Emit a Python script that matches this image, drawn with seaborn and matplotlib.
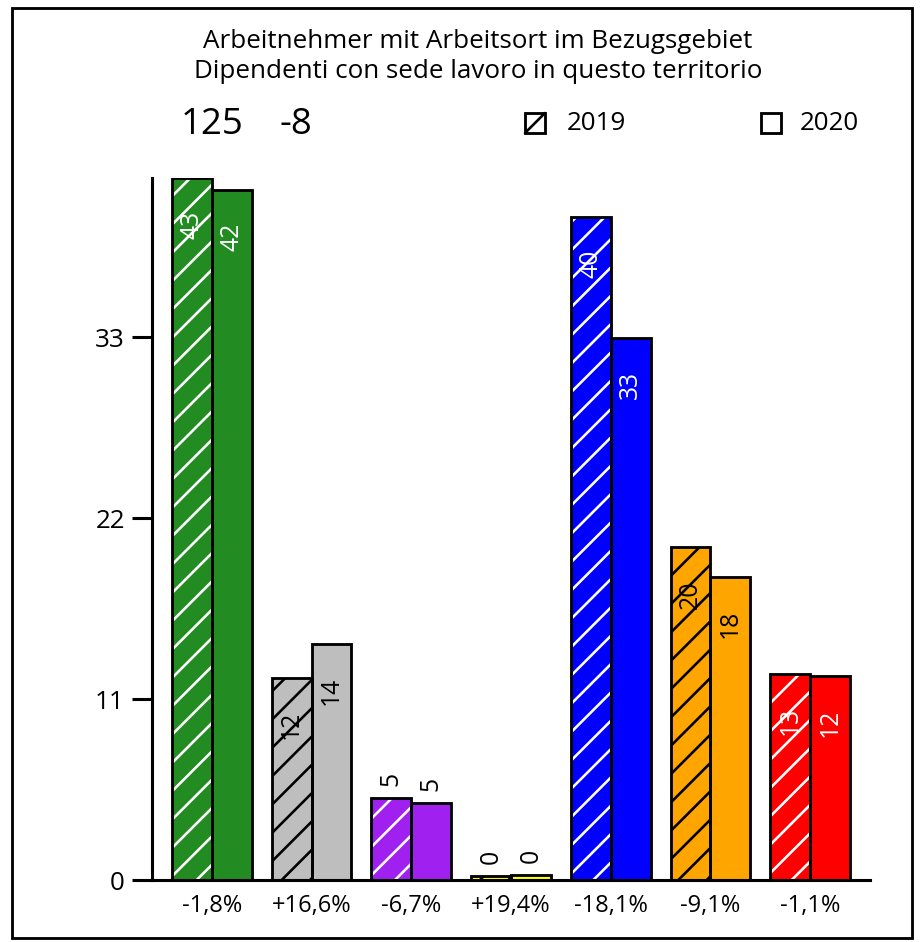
import matplotlib
matplotlib.use("Agg")
import matplotlib.pyplot as plt
import matplotlib.patches as mpatches
import matplotlib.lines as mlines
import seaborn as sns
import pandas as pd

# ---- data ----
categories = ["G1", "G2", "G3", "G4", "G5", "G6", "G7"]
values_2019 = [42.67, 12.28, 4.98, 0.24, 40.30, 20.24, 12.52]
values_2020 = [41.94, 14.35, 4.68, 0.30, 32.95, 18.42, 12.40]
labels_2019 = ["43", "12", "5", "0", "40", "20", "13"]
labels_2020 = ["42", "14", "5", "0", "33", "18", "12"]
pct_labels = ["-1,8%", "+16,6%", "-6,7%", "+19,4%", "-18,1%", "-9,1%", "-1,1%"]
bar_colors = ["#228B22", "#BEBEBE", "#A020F0", "#FFFF00", "#0000FF", "#FFA500", "#FF0000"]
ink_colors = ["white", "black", "white", "black", "white", "black", "white"]
years = ["2019", "2020"]
yticks = [0, 11, 22, 33]
title_lines = ["Arbeitnehmer mit Arbeitsort im Bezugsgebiet",
               "Dipendenti con sede lavoro in questo territorio"]
total_text = "125"
diff_text = "-8"

DPI = 170
W, H = 924, 942
sns.set_theme(style="white")
plt.rcParams["font.family"] = ["Open Sans", "DejaVu Sans"]
plt.rcParams["hatch.linewidth"] = 1.1
for k in ["text.color", "axes.labelcolor", "xtick.color", "ytick.color"]:
    plt.rcParams[k] = "black"

fig = plt.figure(figsize=(W / DPI, H / DPI), dpi=DPI)
ax = fig.add_axes([152 / W, 1 - 880 / H, (870 - 152) / W, (880 - 178) / H])

df = pd.DataFrame({
    "cat": categories * 2,
    "year": [years[0]] * len(categories) + [years[1]] * len(categories),
    "value": values_2019 + values_2020,
})
sns.barplot(data=df, x="cat", y="value", hue="year", order=categories,
            hue_order=years, width=0.8, gap=0, legend=False, ax=ax,
            errorbar=None, saturation=1)

edge_lw = 1.2
label_fs = 10.5
for yi, (cont, labs) in enumerate(zip(ax.containers, [labels_2019, labels_2020])):
    for i, patch in enumerate(cont.patches):
        col = bar_colors[i]
        patch.set_facecolor(col)
        if yi == 0:
            patch.set_hatch("//")
            patch.set_edgecolor(ink_colors[i])
            patch.set_linewidth(0)
            outline = mpatches.Rectangle(patch.get_xy(), patch.get_width(), patch.get_height(),
                                         fill=False, edgecolor="black", linewidth=edge_lw,
                                         zorder=patch.get_zorder() + 0.1)
            ax.add_patch(outline)
        else:
            patch.set_edgecolor("black")
            patch.set_linewidth(edge_lw)
        xc = patch.get_x() + patch.get_width() / 2
        h = patch.get_height()
        if h > 8:
            ax.annotate(labs[i], (xc, h), xytext=(0, -14), textcoords="offset points",
                        rotation=90, ha="center", va="top", fontsize=label_fs,
                        color=ink_colors[i])
        else:
            ax.annotate(labs[i], (xc, h), xytext=(0, 5), textcoords="offset points",
                        rotation=90, ha="center", va="bottom", fontsize=label_fs,
                        color="black")

ax.set_xlim(-0.6, 6.6)
ax.set_ylim(0, max(values_2019 + values_2020))
ax.set_yticks(yticks)
ax.set_yticklabels([str(t) for t in yticks], fontsize=11)
ax.set_xticks(range(len(categories)))
ax.set_xticklabels(pct_labels, fontsize=10)
ax.tick_params(axis="x", length=0, pad=6)
ax.tick_params(axis="y", length=8.5, width=1.3, direction="out", pad=3, left=True, color="black")
ax.set_xlabel("")
ax.set_ylabel("")
for s in ["top", "right"]:
    ax.spines[s].set_visible(False)
for s in ["left", "bottom"]:
    ax.spines[s].set_color("black")
    ax.spines[s].set_linewidth(1.3)

# frame
fig.patches.append(mpatches.Rectangle((12 / W, 1 - 938 / H), 900 / W, 930 / H,
                                      transform=fig.transFigure, fill=False,
                                      edgecolor="black", linewidth=1.2))

# titles
fig.text(478 / W, 1 - 41 / H, title_lines[0], ha="center", va="center", fontsize=11)
fig.text(478 / W, 1 - 71 / H, title_lines[1], ha="center", va="center", fontsize=11)
fig.text(212 / W, 1 - 125 / H, total_text, ha="center", va="center", fontsize=15.5)
fig.text(296 / W, 1 - 125 / H, diff_text, ha="center", va="center", fontsize=15.5)

# legend
fig.patches.append(mpatches.Rectangle((525 / W, 1 - 133 / H), 20 / W, 20 / H,
                                      transform=fig.transFigure, facecolor="white",
                                      edgecolor="black", linewidth=1.2))
fig.lines.append(mlines.Line2D([525 / W, 545 / W], [1 - 133 / H, 1 - 113 / H],
                               transform=fig.transFigure, color="black", linewidth=1.1))
fig.text(567 / W, 1 - 124 / H, years[0], ha="left", va="center", fontsize=11)
fig.patches.append(mpatches.Rectangle((761 / W, 1 - 133 / H), 20 / W, 20 / H,
                                      transform=fig.transFigure, facecolor="white",
                                      edgecolor="black", linewidth=1.2))
fig.text(800 / W, 1 - 124 / H, years[1], ha="left", va="center", fontsize=11)

fig.savefig("out.png", dpi=DPI, facecolor="white")
